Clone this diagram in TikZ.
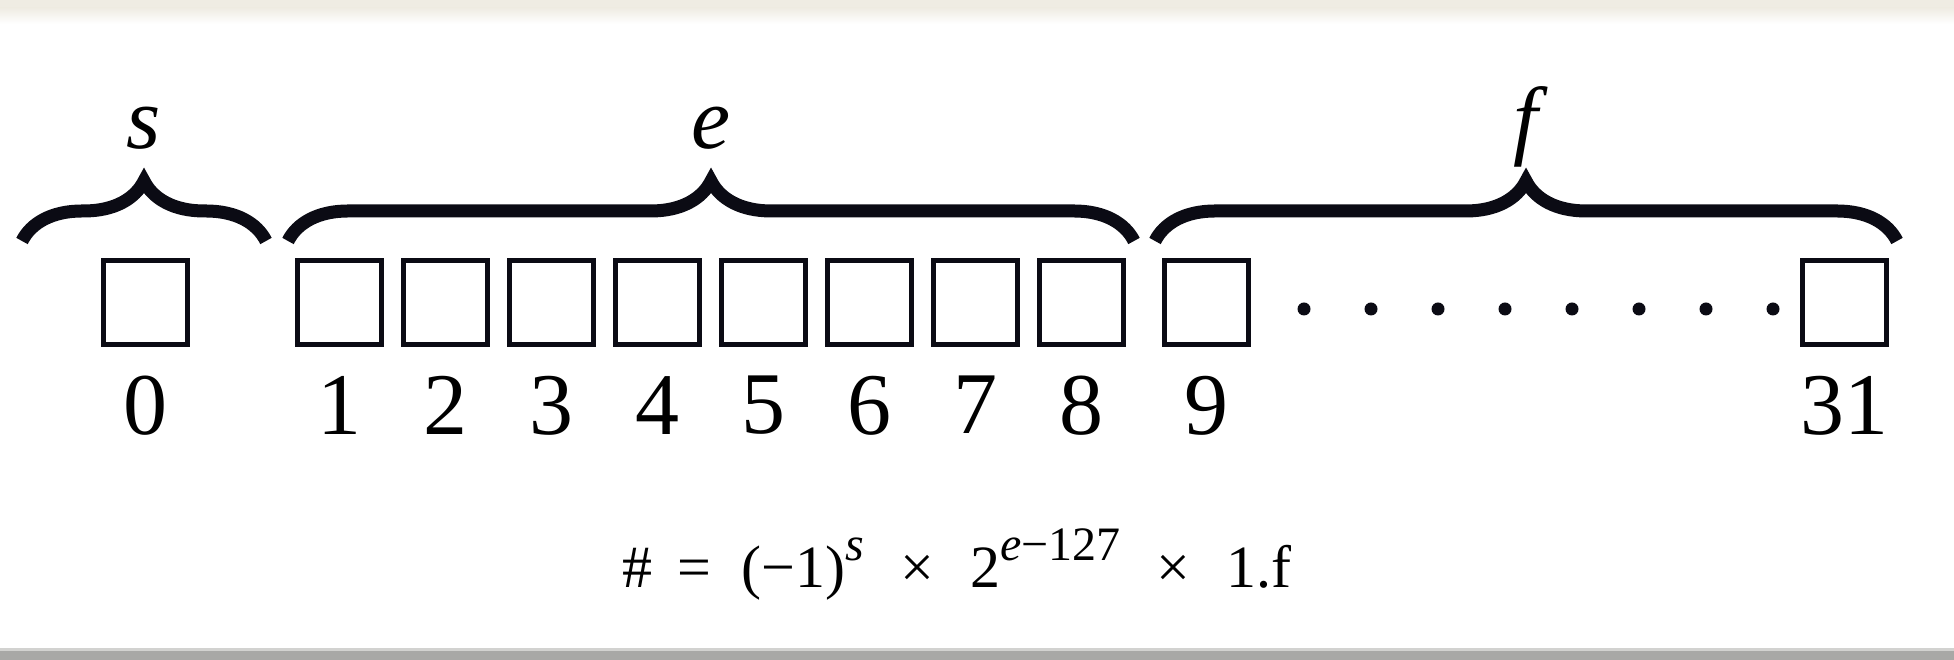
\documentclass[tikz,border=0pt]{standalone}
\usepackage{fontspec}
\setmainfont{Liberation Serif}
\usepackage{xcolor}
\usetikzlibrary{positioning,decorations.pathreplacing}
\definecolor{ink}{HTML}{0B0B14}
\definecolor{frametop}{HTML}{EFECE3}
\definecolor{framebot}{HTML}{A8A8A6}
\definecolor{frameedge}{HTML}{D2D2D0}
\newcommand\pwr[1]{\raisebox{.45em}{\fontsize{12pt}{14pt}\selectfont #1}}
\tikzset{
  every node/.style={font=\fontsize{22pt}{26pt}\selectfont},
  bit/.style={draw=ink,line width=1.25pt,minimum size=21pt,inner sep=0pt,fill=white},
  num/.style={inner sep=0pt},
  brc/.style={decorate,decoration={brace,amplitude=15pt},line width=3.25pt,draw=ink},
  blbl/.style={midway,anchor=base,yshift=23pt,inner sep=0pt,font=\fontsize{22pt}{26pt}\selectfont\itshape},
}

\begin{document}
\begin{tikzpicture}[x=0.25pt,y=0.25pt]
  % frame of the screenshot
  \fill[white] (0,0) rectangle (1954,660);
  \fill[frametop] (0,652) rectangle (1954,660);
  \shade[top color=frametop,bottom color=white] (0,636) rectangle (1954,652);
  \fill[framebot] (0,0) rectangle (1954,12);
  \fill[frameedge] (0,9) rectangle (1954,12);
  \useasboundingbox (0,0) rectangle (1954,660);

  % bits
  \node[bit] (b0) at (145,357) {};
  \foreach \i in {1,...,8}
    \node[bit] (b\i) at ({339+(\i-1)*106},357) {};
  \node[bit] (b9) at (1206,357) {};
  \node[bit] (b31) at (1844,357) {};
  \foreach \i in {0,...,9,31}
    \node[num,below=7pt of b\i] (n\i) {\i};
  \foreach \k in {0,...,7}
    \fill[ink] ({1304+\k*67},351) circle[radius=1.625pt];

  % fields
  \coordinate (sL) at (22,419);
  \coordinate (sR) at (266,419);
  \coordinate (eL) at (288,419);
  \coordinate (eR) at (1134,419);
  \coordinate (fL) at (1155,419);
  \coordinate (fR) at (1897,419);
  \draw[brc] (sL) -- (sR) node[blbl] (ls) {s};
  \draw[brc] (eL) -- (eR) node[blbl] (le) {e};
  \draw[brc] (fL) -- (fR) node[blbl] (lf) {f};

  \node[anchor=base,inner sep=0pt,font=\fontsize{15pt}{18pt}\selectfont] (rule) at (957,72)
    {\#\hspace{.42em}=\hspace{.5em}(−1)\pwr{\textit{s}}\hspace{.6em}×\hspace{.6em}2\pwr{\textit{e}−127}\hspace{.6em}×\hspace{.6em}1.f};
\end{tikzpicture}
\end{document}
